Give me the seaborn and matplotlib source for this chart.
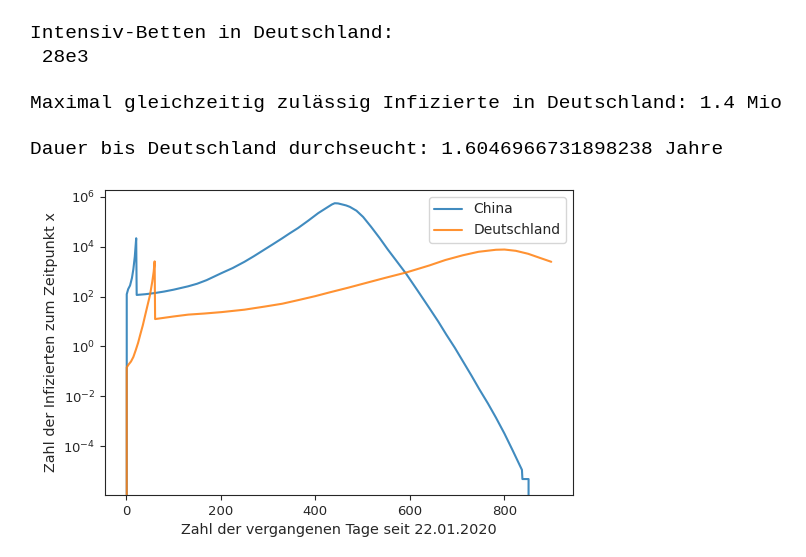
import numpy as np
import pandas as pd
import matplotlib
matplotlib.use("Agg")
import matplotlib.pyplot as plt
import seaborn as sns

sns.set_style("ticks")

# ### Daten
china_tage = [0, 1, 4, 8, 12, 15, 18, 21, 22, 40, 61, 80, 100, 131, 150, 170,
              202, 225, 250, 270, 293, 310, 330, 345, 363, 385, 406, 425, 435,
              441, 448, 455, 465, 473, 487, 501, 518, 536, 553, 571, 592, 616,
              641, 660, 677, 695, 712, 730, 747, 765, 782, 800, 817, 837, 838,
              851, 852]
china_werte = [0, 125, 200, 280, 560, 1260, 4000, 22000, 117, 125, 140, 160,
               190, 260, 330, 460, 890, 1400, 2500, 4200, 7900, 12600, 22000,
               34000, 56000, 112000, 224000, 380000, 500000, 560000, 550000,
               510000, 457000, 400000, 280000, 158000, 63000, 22400, 7900, 2800,
               830, 178, 35, 10, 3.0, 0.89, 0.257, 0.069, 0.019, 0.0052, 0.0014,
               0.00032, 0.00007, 0.0000112, 0.0000048, 0.0000048, 0]

de_tage = [0, 1, 5, 10, 15, 20, 25, 30, 35, 40, 45, 50, 55, 58, 60, 61, 100,
           131, 165, 202, 250, 293, 330, 363, 400, 430, 470, 501, 545, 592, 641,
           675, 712, 745, 782, 800, 824, 850, 873, 899]
de_werte = [0, 0.145, 0.19, 0.25, 0.38, 0.71, 1.4, 3.2, 7.1, 18, 45, 112, 400,
            1000, 2600, 12.6, 16, 19, 21, 24, 30, 40, 52, 72, 105, 148, 230,
            330, 550, 930, 1780, 2950, 4570, 6300, 7600, 7760, 6900, 5250,
            3700, 2500]

df = pd.concat([
    pd.DataFrame({'Tag': china_tage, 'Infizierte': china_werte, 'Land': 'China'}),
    pd.DataFrame({'Tag': de_tage, 'Infizierte': de_werte, 'Land': 'Deutschland'}),
])

# ### Textausgabe wie im Notebook
fig = plt.figure(figsize=(8.06, 5.57), dpi=100)
mono = dict(family='Liberation Mono', fontsize=14.0, color='black', va='center')
fig.text(30 / 806, 1 - 33 / 557, 'Intensiv-Betten in Deutschland:', **mono)
fig.text(30 / 806, 1 - 57 / 557, ' 28e3', **mono)
fig.text(30 / 806, 1 - 103 / 557,
         'Maximal gleichzeitig zulässig Infizierte in Deutschland: 1.4 Mio', **mono)
fig.text(30 / 806, 1 - 150 / 557,
         'Dauer bis Deutschland durchseucht: 1.6046966731898238 Jahre', **mono)

# ### Plot
ax = fig.add_axes([105 / 806, 1 - 495 / 557, 468 / 806, 305 / 557])
sns.lineplot(data=df, x='Tag', y='Infizierte', hue='Land', estimator=None,
             palette=['#1f77b4', '#ff7f0e'], linewidth=1.5, alpha=0.85, ax=ax)
ax.set_yscale('log')
ax.set_ylim(1.1e-6, 1.9e6)
ax.set_xlim(-45, 945)
ax.set_yticks([1e-4, 1e-2, 1e0, 1e2, 1e4, 1e6])
ax.yaxis.set_minor_locator(matplotlib.ticker.NullLocator())
ax.set_xticks([0, 200, 400, 600, 800])
ax.tick_params(labelsize=9.5)
ax.set_xlabel('Zahl der vergangenen Tage seit 22.01.2020', fontsize=10.4)
ax.set_ylabel('Zahl der Infizierten zum Zeitpunkt x', fontsize=10.4)

handles, labels = ax.get_legend_handles_labels()
ax.legend(handles, labels, loc='upper right', fontsize=10)

fig.savefig('out.png', dpi=100)
